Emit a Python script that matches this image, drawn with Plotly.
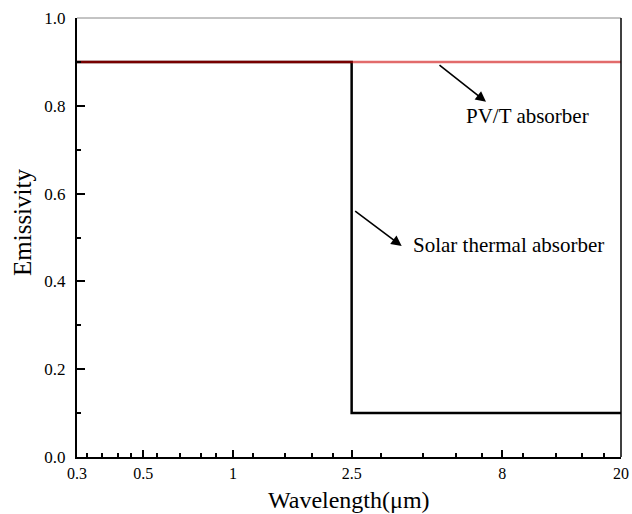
import plotly.graph_objects as go

# Data
pvt_wavelength = [0.3, 20]
pvt_emissivity = [0.9, 0.9]
solar_wavelength = [0.3, 2.5, 2.5, 20]
solar_emissivity = [0.9, 0.9, 0.1, 0.1]
x_tickvals = [0.3, 0.5, 1, 2.5, 8, 20]
x_ticktext = ["0.3", "0.5", "1", "2.5", "8", "20"]
x_minor = [0.323, 0.365, 0.411, 0.454, 0.555, 0.664, 0.779, 0.877,
           1.167, 1.5, 1.84, 2.17, 3.13, 4.35, 5.59, 6.83,
           9.36, 12.1, 14.8, 17.5]
y_tickvals = [0.0, 0.2, 0.4, 0.6, 0.8, 1.0]
y_ticktext = ["0.0", "0.2", "0.4", "0.6", "0.8", "1.0"]
y_minor = [0.1, 0.3, 0.5, 0.7, 0.9]

FONT = "Liberation Serif, Times New Roman, serif"

fig = go.Figure()
fig.add_trace(go.Scatter(x=solar_wavelength, y=solar_emissivity, mode="lines",
                         line=dict(color="black", width=2.5), name="Solar thermal absorber",
                         showlegend=False))
fig.add_trace(go.Scatter(x=pvt_wavelength, y=pvt_emissivity, mode="lines",
                         line=dict(color="rgba(205,0,0,0.58)", width=2.5), name="PV/T absorber",
                         showlegend=False))

# arrows (x in log10 units for log axis)
fig.add_annotation(x=0.8484, y=0.809, xref="x", yref="y", ax=-48, ay=-38,
                   text="", showarrow=True, arrowhead=2, arrowsize=1.3, arrowwidth=1.6,
                   arrowcolor="black")
fig.add_annotation(x=0.5657, y=0.4806, xref="x", yref="y", ax=-48, ay=-36,
                   text="", showarrow=True, arrowhead=2, arrowsize=1.3, arrowwidth=1.6,
                   arrowcolor="black")
fig.add_annotation(x=0.7746, y=0.777, xref="x", yref="y", text="PV/T absorber",
                   showarrow=False, xanchor="left", yanchor="middle",
                   font=dict(family=FONT, size=21, color="black"))
fig.add_annotation(x=0.5969, y=0.483, xref="x", yref="y", text="Solar thermal absorber",
                   showarrow=False, xanchor="left", yanchor="middle",
                   font=dict(family=FONT, size=21, color="black"))

# axis titles
fig.add_annotation(x=0.5, y=-0.098, xref="paper", yref="paper", text="Wavelength(μm)",
                   showarrow=False, xanchor="center", yanchor="middle",
                   font=dict(family=FONT, size=24, color="black"))
fig.add_annotation(x=-0.1011, y=0.533, xref="paper", yref="paper", text="Emissivity",
                   showarrow=False, xanchor="center", yanchor="middle", textangle=-90,
                   font=dict(family=FONT, size=25, color="black"))

# top and right frame lines
fig.add_shape(type="line", xref="paper", yref="paper", x0=0, x1=1, y0=1, y1=1,
              line=dict(color="#888888", width=1))
fig.add_shape(type="line", xref="paper", yref="paper", x0=1, x1=1, y0=0, y1=1,
              line=dict(color="black", width=1.5))

fig.update_layout(
    width=632, height=514,
    margin=dict(l=77, r=11, t=18, b=57),
    paper_bgcolor="white", plot_bgcolor="white",
    font=dict(family=FONT, color="black"),
    xaxis=dict(type="log", range=[-0.52288, 1.30103], tickmode="array",
               tickvals=x_tickvals, ticktext=x_ticktext, automargin=False,
               ticks="inside", ticklen=7, tickwidth=1.5, tickcolor="black",
               showline=True, linecolor="black", linewidth=2,
               showgrid=False, zeroline=False,
               tickfont=dict(family=FONT, size=16), ticklabelstandoff=1,
               minor=dict(tickmode="array", tickvals=x_minor, ticks="inside",
                          ticklen=4, tickwidth=1.5, tickcolor="black", showgrid=False)),
    yaxis=dict(range=[0, 1.0], tickmode="array", tickvals=y_tickvals,
               ticktext=y_ticktext, automargin=False,
               ticks="inside", ticklen=8, tickwidth=1.5, tickcolor="black",
               showline=True, linecolor="black", linewidth=2,
               showgrid=False, zeroline=False,
               tickfont=dict(family=FONT, size=17), ticklabelstandoff=6,
               minor=dict(tickmode="array", tickvals=y_minor, ticks="inside",
                          ticklen=4, tickwidth=1.5, tickcolor="black", showgrid=False)),
)

# remove the default page margin so the 632x514 figure fills the window exactly
fig.write_html("out.html", config={"displayModeBar": False},
               post_script="document.body.style.margin='0';document.body.style.overflow='hidden';")
